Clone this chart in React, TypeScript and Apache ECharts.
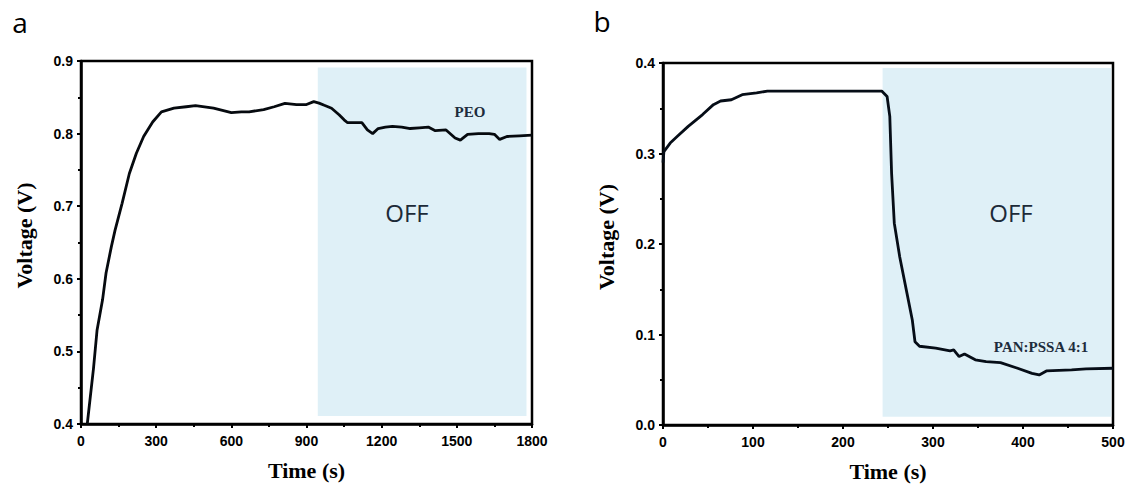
import React, { useEffect, useRef } from "react";
import * as echarts from "echarts";

// Panel a (PEO)
const timeA = [25, 50, 64, 86, 100, 121, 136, 164, 193, 221, 250, 286, 321, 371, 420, 457, 529, 600, 640, 671, 729, 771, 814, 860, 900, 929, 950, 971, 1000, 1030, 1050, 1064, 1090, 1121, 1143, 1164, 1186, 1215, 1243, 1280, 1314, 1350, 1386, 1414, 1457, 1493, 1514, 1543, 1586, 1629, 1650, 1671, 1700, 1750, 1800];
const voltA = [0.400, 0.477, 0.529, 0.571, 0.608, 0.644, 0.667, 0.704, 0.745, 0.773, 0.796, 0.816, 0.830, 0.835, 0.837, 0.8385, 0.835, 0.829, 0.830, 0.830, 0.833, 0.837, 0.8417, 0.840, 0.840, 0.844, 0.842, 0.839, 0.835, 0.826, 0.819, 0.815, 0.815, 0.815, 0.805, 0.800, 0.807, 0.809, 0.810, 0.809, 0.807, 0.808, 0.809, 0.804, 0.805, 0.794, 0.791, 0.799, 0.800, 0.800, 0.799, 0.792, 0.796, 0.797, 0.798];
const offA = [945, 1778];
const offA_V = [0.411, 0.891];

// Panel b (PAN:PSSA 4:1)
const timeB = [0, 1, 8, 16, 28, 44, 56, 64, 76, 88, 104, 116, 155, 215, 243, 249, 252, 254, 257, 263, 271, 277, 280, 285, 303, 319, 323, 329, 335, 347, 359, 375, 394, 410, 418, 426, 454, 470, 500];
const voltB = [0.290, 0.302, 0.3115, 0.319, 0.330, 0.343, 0.354, 0.358, 0.3594, 0.365, 0.367, 0.369, 0.369, 0.369, 0.369, 0.363, 0.341, 0.278, 0.223, 0.186, 0.146, 0.116, 0.092, 0.087, 0.085, 0.082, 0.083, 0.0756, 0.0785, 0.072, 0.070, 0.069, 0.0627, 0.057, 0.0553, 0.0597, 0.0608, 0.062, 0.0627];
const offB = [244, 498];
const offB_V = [0.0092, 0.3945];

const xTicksA = [0, 300, 600, 900, 1200, 1500, 1800];
const yTicksA = [0.4, 0.5, 0.6, 0.7, 0.8, 0.9];
const xTicksB = [0, 100, 200, 300, 400, 500];
const yTicksB = [0.0, 0.1, 0.2, 0.3, 0.4];

const seriesLabelA = "PEO";
const seriesLabelB = "PAN:PSSA 4:1";

export default function App() {
  const ref = useRef<HTMLDivElement>(null);
  useEffect(() => {
    if (!ref.current) return;
    const chart = echarts.init(ref.current, null, { renderer: "svg" });
    const tickFont = { fontFamily: "Liberation Sans, Arial, sans-serif", fontWeight: "bold" as const, fontSize: 14, color: "#000" };
    const titleFont = { fontFamily: "Liberation Serif, Times New Roman, serif", fontWeight: "bold" as const, fontSize: 22, color: "#000" };
    const axisCommon = {
      axisLine: { show: true, onZero: false, lineStyle: { color: "#000", width: 2.5 } },
      axisTick: { show: true, inside: false, length: 4, lineStyle: { color: "#000", width: 2 } },
      minorTick: { show: true, splitNumber: 2, length: 3, lineStyle: { color: "#000", width: 2 } },
      splitLine: { show: false },
    };
    const mkX = (gi: number, ticks: number[]) => ({
      type: "value",
      gridIndex: gi,
      min: ticks[0],
      max: ticks[ticks.length - 1],
      interval: ticks[1] - ticks[0],
      name: "Time (s)",
      nameLocation: "middle",
      nameGap: 35,
      nameTextStyle: titleFont,
      axisLabel: { ...tickFont, margin: 10, formatter: (v: number) => String(Math.round(v)) },
      ...axisCommon,
    });
    const mkY = (gi: number, ticks: number[]) => ({
      type: "value",
      gridIndex: gi,
      min: ticks[0],
      max: ticks[ticks.length - 1],
      interval: 0.1,
      name: "Voltage (V)",
      nameLocation: "middle",
      nameGap: 46,
      nameTextStyle: { ...titleFont, padding: [0, 0, 0, 14] },
      axisLabel: { ...tickFont, margin: 8, formatter: (v: number) => v.toFixed(1) },
      ...axisCommon,
    });
    const areaStyle = { color: "#dff0f7", opacity: 1 };
    chart.setOption({
      animation: false,
      backgroundColor: "#fff",
      grid: [
        { left: 81, top: 61, width: 451, height: 363, show: true, borderColor: "#000", borderWidth: 2.5, backgroundColor: "transparent" },
        { left: 663, top: 63, width: 450, height: 362, show: true, borderColor: "#000", borderWidth: 2.5, backgroundColor: "transparent" },
      ],
      xAxis: [mkX(0, xTicksA), mkX(1, xTicksB)],
      yAxis: [mkY(0, yTicksA), mkY(1, yTicksB)],
      series: [
        {
          type: "line",
          xAxisIndex: 0,
          yAxisIndex: 0,
          data: timeA.map((t, i) => [t, voltA[i]]),
          showSymbol: false,
          clip: true,
          lineStyle: { color: "#060a0f", width: 2.8 },
          z: 5,
          markArea: {
            silent: true,
            itemStyle: areaStyle,
            data: [[{ coord: [offA[0], offA_V[0]] }, { coord: [offA[1], offA_V[1]] }]],
          },
        },
        {
          type: "line",
          xAxisIndex: 1,
          yAxisIndex: 1,
          data: timeB.map((t, i) => [t, voltB[i]]),
          showSymbol: false,
          clip: true,
          lineStyle: { color: "#060d17", width: 2.8 },
          z: 5,
          markArea: {
            silent: true,
            itemStyle: areaStyle,
            data: [[{ coord: [offB[0], offB_V[0]] }, { coord: [offB[1], offB_V[1]] }]],
          },
        },
      ],
      graphic: [
        { type: "text", x: 20, y: 22, style: { text: "a", font: "normal 28px 'Open Sans', sans-serif", fill: "#000", align: "center", verticalAlign: "middle" } },
        { type: "text", x: 602, y: 21, style: { text: "b", font: "normal 28px 'Open Sans', sans-serif", fill: "#000", align: "center", verticalAlign: "middle" } },
        { type: "text", x: 407, y: 212, style: { text: "OFF", font: "normal 24px 'Open Sans', sans-serif", fill: "#1c2a38", align: "center", verticalAlign: "middle" }, z: 10 },
        { type: "text", x: 1011, y: 212, style: { text: "OFF", font: "normal 24px 'Open Sans', sans-serif", fill: "#1c2a38", align: "center", verticalAlign: "middle" }, z: 10 },
        { type: "text", x: 470, y: 112, style: { text: seriesLabelA, font: "bold 15px 'Liberation Serif', serif", fill: "#1d2c3c", align: "center", verticalAlign: "middle" }, z: 10 },
        { type: "text", x: 1041, y: 347, style: { text: seriesLabelB, font: "bold 15px 'Liberation Serif', serif", fill: "#1d2c3c", align: "center", verticalAlign: "middle" }, z: 10 },
      ],
    });
    return () => chart.dispose();
  }, []);
  return <div ref={ref} style={{ position: "fixed", left: 0, top: 0, width: 1132, height: 494, background: "#fff" }} />;
}
